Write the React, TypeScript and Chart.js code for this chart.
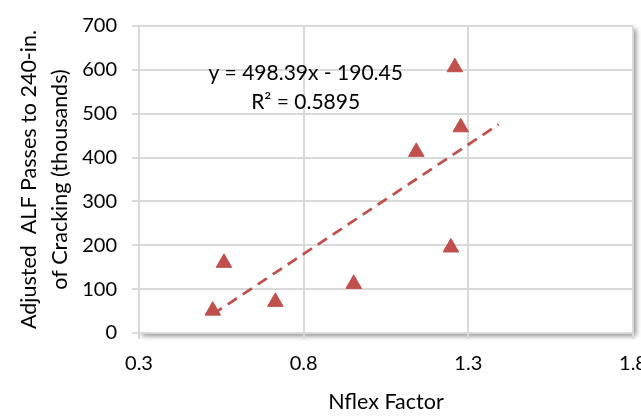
import React, { useEffect, useRef } from 'react';
import { Chart, registerables } from 'chart.js';

Chart.register(...registerables);

// ---- data ----
const X_VALUES = [0.524, 0.558, 0.714, 0.952, 1.142, 1.259, 1.277, 1.247];
const Y_VALUES = [51, 160, 71, 112, 413, 606, 469, 195];
const X_TICKS = [0.3, 0.8, 1.3, 1.8];
const Y_TICKS = [0, 100, 200, 300, 400, 500, 600, 700];
const X_TITLE = 'Nflex Factor';
const Y_TITLE = ['Adjusted  ALF Passes to 240-in.', 'of Cracking (thousands)'];
const EQUATION = 'y = 498.39x - 190.45';
const R_SQUARED = 'R\u00B2 = 0.5895';
const TREND_FORWARD = 0.115;

// ---- style ----
const RED = '#C0504D';
const GRID = '#d9d9d9';
const TEXT = '#000000';
const FONT = 'Lato';
const EQ_X = 0.806;
const EQ_Y = 578;

function regression(xs: number[], ys: number[]) {
  const n = xs.length;
  const mx = xs.reduce((a, b) => a + b, 0) / n;
  const my = ys.reduce((a, b) => a + b, 0) / n;
  let sxy = 0;
  let sxx = 0;
  for (let i = 0; i < n; i++) {
    sxy += (xs[i] - mx) * (ys[i] - my);
    sxx += (xs[i] - mx) * (xs[i] - mx);
  }
  const slope = sxy / sxx;
  return { slope, intercept: my - slope * mx };
}

export default function App() {
  const ref = useRef<HTMLCanvasElement>(null);

  useEffect(() => {
    if (!ref.current) return;
    const { slope, intercept } = regression(X_VALUES, Y_VALUES);
    const x0 = Math.min(...X_VALUES);
    const x1 = Math.max(...X_VALUES) + TREND_FORWARD;
    const trend = [
      { x: x0, y: slope * x0 + intercept },
      { x: x1, y: slope * x1 + intercept },
    ];

    const shadowPlugin = {
      id: 'plotShadow',
      beforeDraw(chart: any) {
        const { ctx, chartArea: a } = chart;
        ctx.save();
        ctx.shadowColor = 'rgba(0,0,0,0.45)';
        ctx.shadowBlur = 5;
        ctx.shadowOffsetX = 3;
        ctx.shadowOffsetY = 3;
        ctx.fillStyle = '#ffffff';
        ctx.fillRect(a.left, a.top, a.right - a.left, a.bottom - a.top);
        ctx.restore();
      },
    };

    const eqPlugin = {
      id: 'equation',
      afterDraw(chart: any) {
        const { ctx, scales } = chart;
        const x = scales.x.getPixelForValue(EQ_X);
        const y = scales.y.getPixelForValue(EQ_Y);
        ctx.save();
        ctx.font = `21px ${FONT}`;
        ctx.fillStyle = TEXT;
        ctx.textAlign = 'center';
        ctx.textBaseline = 'alphabetic';
        ctx.fillText(EQUATION, x, y);
        ctx.fillText(R_SQUARED, x, y + 29.5);
        ctx.restore();
      },
    };

    const chart = new Chart(ref.current, {
      type: 'scatter',
      data: {
        datasets: [
          {
            type: 'line',
            data: trend,
            borderColor: RED,
            borderWidth: 2.75,
            borderDash: [11, 7],
            pointRadius: 0,
            fill: false,
            order: 0,
          } as any,
          {
            data: X_VALUES.map((x, i) => ({ x, y: Y_VALUES[i] })),
            pointStyle: 'triangle',
            pointRadius: 9,
            backgroundColor: RED,
            borderColor: RED,
            borderWidth: 1,
            order: 1,
          },
        ],
      },
      options: {
        animation: false,
        responsive: true,
        maintainAspectRatio: false,
        layout: { padding: { top: 26, right: 8, left: 0, bottom: 0 }, autoPadding: false } as any,
        plugins: { legend: { display: false }, tooltip: { enabled: false } },
        scales: {
          x: {
            type: 'linear',
            min: X_TICKS[0],
            max: X_TICKS[X_TICKS.length - 1],
            afterBuildTicks: (s: any) => {
              s.ticks = X_TICKS.map((v) => ({ value: v }));
            },
            afterFit: (s: any) => {
              s.height = 85;
              s.paddingLeft = 0;
              s.paddingRight = 0;
            },
            ticks: {
              callback: (v: any) => Number(v).toFixed(1),
              font: { family: FONT, size: 20 },
              color: TEXT,
              padding: 13,
              maxRotation: 0,
              autoSkip: false,
            },
            grid: { color: GRID, lineWidth: 2, tickLength: 6, drawTicks: true },
            border: { display: true, color: GRID, width: 2 },
            title: {
              display: true,
              text: X_TITLE,
              font: { family: FONT, size: 21.5 },
              color: TEXT,
              padding: { top: 0, bottom: 3.5 },
            },
          },
          y: {
            type: 'linear',
            min: Y_TICKS[0],
            max: Y_TICKS[Y_TICKS.length - 1],
            afterBuildTicks: (s: any) => {
              s.ticks = Y_TICKS.map((v) => ({ value: v }));
            },
            afterFit: (s: any) => {
              s.width = 139;
              s.paddingTop = 0;
              s.paddingBottom = 0;
            },
            ticks: {
              callback: (v: any) => String(v),
              font: { family: FONT, size: 20 },
              color: TEXT,
              padding: 15,
              autoSkip: false,
            },
            grid: { color: GRID, lineWidth: 2, tickLength: 7, drawTicks: true },
            border: { display: true, color: GRID, width: 2 },
            title: {
              display: true,
              text: Y_TITLE,
              font: { family: FONT, size: 21.5, lineHeight: 1.474 },
              color: TEXT,
              padding: { top: 13, bottom: 0 },
            },
          },
        },
      },
      plugins: [shadowPlugin, eqPlugin],
    });
    return () => chart.destroy();
  }, []);

  return (
    <div style={{ position: 'fixed', left: 0, top: 0, width: 641, height: 418 }}>
      <canvas ref={ref} />
    </div>
  );
}
